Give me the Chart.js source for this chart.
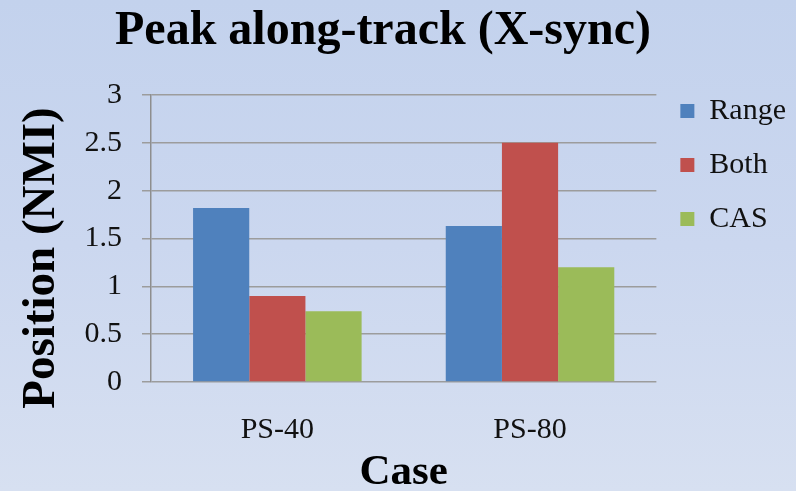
<!DOCTYPE html>
<html>
<head>
<meta charset="utf-8">
<script src="https://cdn.jsdelivr.net/npm/chart.js@4.4.1/dist/chart.umd.min.js"></script>
<style>
  html, body { margin: 0; padding: 0; }
  body {
    width: 796px; height: 491px; overflow: hidden;
    background: linear-gradient(180deg, #c3d2ed 0%, #cbd7ef 50%, #d7e0f1 100%);
  }
  canvas { display: block; }
</style>
</head>
<body>
<canvas id="chart" width="796" height="491"></canvas>
<script>
// Peak along-track position per case, three control variants
const categories = ['PS-40', 'PS-80'];
const seriesNames = ['Range', 'Both', 'CAS'];
const rangeValues = [1.82, 1.63];
const bothValues = [0.90, 2.50];
const casValues = [0.74, 1.20];
const seriesColors = ['#4f81bd', '#c0504d', '#9bbb59'];

const chartTitle = 'Peak along-track (X-sync)';
const yAxisTitle = 'Position (NMI)';
const xAxisTitle = 'Case';

const SERIF = "'Liberation Serif', 'Times New Roman', serif";

// Main title and rotated y-axis caption
const captions = {
  id: 'captions',
  afterDraw(chart) {
    const ctx = chart.ctx;
    ctx.save();
    ctx.fillStyle = '#000';
    ctx.textAlign = 'center';
    ctx.textBaseline = 'alphabetic';
    ctx.font = 'bold 48px ' + SERIF;
    ctx.fillText(chartTitle, 383, 44);
    ctx.translate(54, 258);
    ctx.rotate(-Math.PI / 2);
    ctx.font = 'bold 47px ' + SERIF;
    ctx.fillText(yAxisTitle, 0, 0);
    ctx.restore();
  }
};

const seriesData = [rangeValues, bothValues, casValues];

new Chart(document.getElementById('chart'), {
  type: 'bar',
  data: {
    labels: categories,
    datasets: seriesNames.map((name, i) => ({
      label: name,
      data: seriesData[i],
      backgroundColor: seriesColors[i],
      borderWidth: 0,
      categoryPercentage: 0.667,
      barPercentage: 1.0
    }))
  },
  options: {
    responsive: false,
    animation: false,
    layout: { padding: { left: 64.5, top: 0, right: 0, bottom: 0 } },
    plugins: {
      // reserves the band above the plot where the caption is painted
      title: { display: true, text: '', font: { size: 10, lineHeight: 1 }, padding: { top: 85, bottom: 0 } },
      tooltip: { enabled: false },
      legend: {
        position: 'right',
        align: 'start',
        title: { display: true, text: '', font: { size: 13, lineHeight: 1 }, padding: { top: 0, bottom: 59 } },
        labels: {
          boxWidth: 14,
          boxHeight: 14,
          padding: 24,
          color: '#111',
          font: { family: SERIF, size: 30 }
        }
      }
    },
    scales: {
      x: {
        grid: { display: false, drawTicks: true, tickLength: 30 },
        border: { display: false },
        ticks: { padding: 0, color: '#111', font: { family: SERIF, size: 30 } },
        title: {
          display: true,
          text: xAxisTitle,
          color: '#000',
          font: { family: SERIF, size: 43, weight: 'bold', lineHeight: 0.86 },
          padding: { top: 6, bottom: 0 }
        }
      },
      y: {
        min: 0,
        max: 3,
        ticks: {
          stepSize: 0.5,
          padding: 20,
          color: '#111',
          font: { family: SERIF, size: 30 },
          callback: (value) => String(value)
        },
        grid: { color: '#9c9c9c', lineWidth: 1.5, tickLength: 9, drawTicks: true },
        border: { display: true, color: '#8e8e8e', width: 1.5 }
      }
    }
  },
  plugins: [captions]
});
</script>
</body>
</html>
